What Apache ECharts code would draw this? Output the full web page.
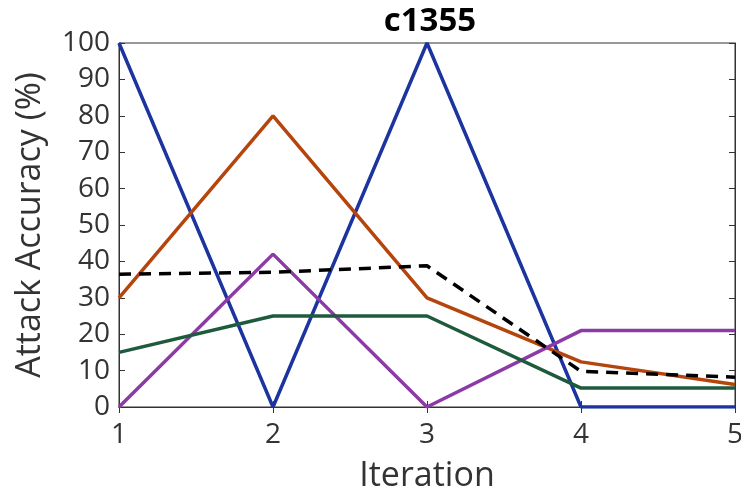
<!DOCTYPE html>
<html>
<head>
<meta charset="utf-8">
<script src="https://cdn.jsdelivr.net/npm/echarts@6/dist/echarts.min.js"></script>
<style>
  html, body { margin: 0; padding: 0; background: #fff; }
  #chart { width: 741px; height: 494px; }
</style>
</head>
<body>
<div id="chart"></div>
<script>
// iterations on x axis
const iterations = [1, 2, 3, 4, 5];
const yTicks = [0, 10, 20, 30, 40, 50, 60, 70, 80, 90, 100];

// attack accuracy (%) per iteration
const blueLine = [100, 0, 100, 0, 0];
const orangeLine = [30, 80, 30, 12.4, 6.2];
const purpleLine = [0, 42, 0, 21, 21];
const greenLine = [15, 25, 25, 5.2, 5.2];
const dashedLine = [36.5, 37, 38.8, 9.8, 8.2];

const pairs = (vals) => vals.map((v, i) => [iterations[i], v]);

const myChart = echarts.init(document.getElementById('chart'));

const font = 'Open Sans';
const axisCommon = {
	type: 'value',
	axisLine: { show: true, lineStyle: { color: '#333', width: 1 } },
	axisTick: { show: true, inside: true, length: 6, lineStyle: { color: '#333' } },
	splitLine: { show: false }
};

const mkLine = (name, vals, color, dashed) => ({
	name: name,
	type: 'line',
	data: pairs(vals),
	symbol: 'none',
	z: dashed ? 3 : 2,
	lineStyle: { color: color, width: 3.5, type: dashed ? [12, 8] : 'solid' },
	itemStyle: { color: color }
});

const option = {
	animation: false,
	title: {
		text: 'c1355',
		left: 425,
		textAlign: 'center',
		top: 0,
		textStyle: { fontFamily: font, fontWeight: 'bold', fontSize: 33, color: '#000' }
	},
	grid: {
		left: 119, right: 6, top: 43, bottom: 87,
		outerBoundsMode: 'none',
		show: true, borderColor: '#333', borderWidth: 1
	},
	xAxis: [
		Object.assign({}, axisCommon, {
			min: 1, max: 5, interval: 1,
			name: 'Iteration',
			nameLocation: 'middle',
			nameGap: 52,
			nameTextStyle: { fontFamily: font, fontSize: 34, color: '#333' },
			axisLabel: { fontFamily: font, fontSize: 28, color: '#333', margin: 14,
				formatter: (v) => iterations.includes(v) ? String(v) : '' }
		}),
		Object.assign({}, axisCommon, {
			position: 'top', min: 1, max: 5, interval: 1,
			axisLabel: { show: false }
		})
	],
	yAxis: [
		Object.assign({}, axisCommon, {
			min: 0, max: 100, interval: 10,
			name: 'Attack Accuracy (%)',
			nameLocation: 'middle',
			nameGap: 72,
			nameTextStyle: { fontFamily: font, fontSize: 34, color: '#333' },
			axisLabel: { fontFamily: font, fontSize: 28, color: '#333', margin: 9,
				formatter: (v) => yTicks.includes(v) ? String(v) : '' }
		}),
		Object.assign({}, axisCommon, {
			position: 'right', min: 0, max: 100, interval: 10,
			axisLabel: { show: false }
		})
	],
	series: [
		mkLine('blue', blueLine, '#1c34a0', false),
		mkLine('orange', orangeLine, '#b5450c', false),
		mkLine('purple', purpleLine, '#8b3aa6', false),
		mkLine('green', greenLine, '#1e5b3c', false),
		mkLine('dashed', dashedLine, '#000000', true)
	]
};

myChart.setOption(option);
</script>
</body>
</html>
